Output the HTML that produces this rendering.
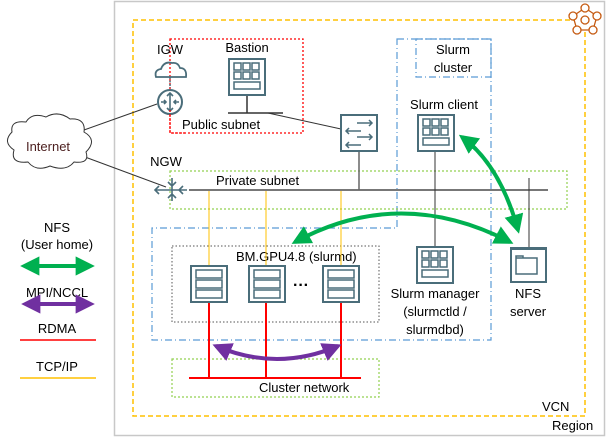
<!DOCTYPE html>
<html><head><meta charset="utf-8"><style>
html,body{margin:0;padding:0;background:#fff;}
svg{display:block;}
text{font-family:"Liberation Sans","Noto Sans CJK JP",sans-serif;font-size:13px;fill:#000;}
</style></head><body>
<svg width="608" height="441" viewBox="0 0 608 441" xmlns="http://www.w3.org/2000/svg">
<defs>
<marker id="g" viewBox="0 0 10 10" refX="8" refY="5" markerWidth="4.8" markerHeight="4.8" orient="auto-start-reverse"><path d="M0,0L10,5L0,10z" fill="#00b050"/></marker>
<marker id="p" viewBox="0 0 10 10" refX="8" refY="5" markerWidth="4.8" markerHeight="4.8" orient="auto-start-reverse"><path d="M0,0L10,5L0,10z" fill="#7030a0"/></marker>
<g id="srv"><rect x="0" y="0" width="36" height="36" fill="#fff" stroke="#4a6d7a" stroke-width="2"/><rect x="5" y="4" width="26" height="8" fill="none" stroke="#4a6d7a" stroke-width="1.5"/><rect x="5" y="14" width="26" height="8" fill="none" stroke="#4a6d7a" stroke-width="1.5"/><rect x="5" y="24" width="26" height="8" fill="none" stroke="#4a6d7a" stroke-width="1.5"/></g>
<g id="vm"><rect x="0" y="0" width="36" height="36" fill="#fff" stroke="#4a6d7a" stroke-width="2"/><g fill="none" stroke="#4a6d7a" stroke-width="1.5"><rect x="5" y="4" width="7" height="7"/><rect x="14" y="4" width="7" height="7"/><rect x="23" y="4" width="7" height="7"/><rect x="5" y="13" width="7" height="7"/><rect x="14" y="13" width="7" height="7"/><rect x="23" y="13" width="7" height="7"/><rect x="5" y="23" width="26" height="7"/></g></g>
</defs>
<rect x="114.5" y="1.5" width="490" height="434" fill="none" stroke="#c8c8c8" stroke-width="1.5"/>
<text x="552" y="430">Region</text>
<rect x="133" y="20" width="452" height="396" fill="none" stroke="#ffc000" stroke-width="1.5" stroke-dasharray="5,3"/>
<text x="542" y="411">VCN</text>
<g fill="#fff" stroke="#c55a11" stroke-width="1.3">
<polygon points="585,8 597,16 593,30 577,30 573,16"/>
<circle cx="585" cy="8" r="4"/><circle cx="597" cy="16" r="4"/><circle cx="593" cy="30" r="4"/><circle cx="577" cy="30" r="4"/><circle cx="573" cy="16" r="4"/><circle cx="585" cy="20" r="4"/>
</g>
<rect x="170" y="39" width="133" height="94" fill="none" stroke="#ff0000" stroke-width="1.3" stroke-dasharray="2,2"/>
<text x="182" y="129">Public subnet</text>
<path d="M397,39H491V340H152V228H397Z" fill="none" stroke="#5b9bd5" stroke-width="1.2" stroke-dasharray="7,3,1,3"/>
<rect x="416" y="39" width="75" height="38" fill="none" stroke="#5b9bd5" stroke-width="1.2" stroke-dasharray="7,3,1,3"/>
<text x="453" y="54" text-anchor="middle">Slurm</text>
<text x="453" y="72" text-anchor="middle">cluster</text>
<rect x="170" y="171" width="397" height="38" fill="none" stroke="#92d050" stroke-width="1.2" stroke-dasharray="2,2"/>
<text x="216" y="185">Private subnet</text>
<rect x="172" y="246" width="207" height="76" fill="none" stroke="#555" stroke-width="1" stroke-dasharray="1.5,2"/>
<text x="236" y="261">BM.GPU4.8 (slurmd)</text>
<rect x="172" y="359" width="207" height="38" fill="none" stroke="#92d050" stroke-width="1.2" stroke-dasharray="2,2"/>
<text x="259" y="392">Cluster network</text>
<g stroke="#ffc000" stroke-width="1"><line x1="209" y1="190" x2="209" y2="266"/><line x1="266" y1="190" x2="266" y2="266"/><line x1="341" y1="190" x2="341" y2="266"/></g>
<line x1="189" y1="190" x2="548" y2="190" stroke="#777" stroke-width="2"/>
<g stroke="#ff0000" stroke-width="2"><line x1="189" y1="378" x2="361" y2="378"/><line x1="209" y1="302" x2="209" y2="378"/><line x1="266" y1="302" x2="266" y2="378"/><line x1="341" y1="302" x2="341" y2="378"/></g>
<g stroke="#333" stroke-width="1"><line x1="435" y1="151" x2="435" y2="247"/><line x1="529" y1="178" x2="529" y2="247"/><line x1="359" y1="151" x2="359" y2="190" stroke="#666" stroke-width="1.5"/>
<line x1="247" y1="95" x2="247" y2="113" stroke="#666" stroke-width="2"/><line x1="228" y1="113" x2="283" y2="113" stroke-width="1.5"/>
<line x1="268" y1="113" x2="341" y2="129"/><line x1="84" y1="130" x2="157" y2="104"/><line x1="85" y1="157" x2="166" y2="187"/></g>
<use href="#vm" x="229" y="59"/>
<use href="#vm" x="418" y="115"/>
<use href="#vm" x="417" y="247"/>
<use href="#srv" x="191" y="266"/><use href="#srv" x="249" y="266"/><use href="#srv" x="323" y="266"/>
<text x="293" y="290" style="font-size:16px;font-weight:bold">···</text>
<rect x="341" y="115" width="36" height="36" fill="#fff" stroke="#4a6d7a" stroke-width="2"/>
<g stroke="#4a6d7a" stroke-width="1.5" fill="none"><path d="M357,123H372M369,120L372,123L369,126"/><path d="M361,131H346M349,128L346,131L349,134"/><path d="M357,137H372M369,134L372,137L369,140"/><path d="M361,145H346M349,142L346,145L349,148"/></g>
<rect x="511" y="248" width="35" height="34" fill="#fff" stroke="#4a6d7a" stroke-width="2"/>
<rect x="511" y="247" width="35" height="3" fill="#4a6d7a"/>
<path d="M516,258H537V274H516ZM516,258V256H523V258" fill="none" stroke="#4a6d7a" stroke-width="1.5"/>
<text x="528" y="298" text-anchor="middle">NFS</text>
<text x="528" y="316" text-anchor="middle">server</text>
<text x="170" y="54" text-anchor="middle">IGW</text>
<path d="M156,77 Q154,70 161,69 Q164,61 172,63 Q178,62 180,68 Q187,68 186,77Z" fill="none" stroke="#4a6d7a" stroke-width="1.8"/>
<line x1="170" y1="77" x2="170" y2="88" stroke="#4a6d7a" stroke-width="1.5" stroke-dasharray="2,1.5"/>
<circle cx="170" cy="102" r="12" fill="#fff" stroke="#4a6d7a" stroke-width="2"/>
<g stroke="#4a6d7a" stroke-width="1.6" fill="none"><path d="M170,93V111M167,96L170,93L173,96M167,108L170,111L173,108M161,102H166M164,100L166,102L164,104M179,102H174M176,100L174,102L176,104"/></g>
<path d="M170,110V133H185" fill="none" stroke="#ff0000" stroke-width="1.3" stroke-dasharray="2,2"/>
<text x="166" y="166" text-anchor="middle">NGW</text>
<g stroke="#4a6d7a" stroke-width="1.6" fill="none"><path d="M155,190H187M172,178V201M168,182L172,186L176,182M168,198L172,194L176,198M159,186L155,190L159,194M183,186L179,190L183,194"/></g>
<text x="247" y="52" text-anchor="middle">Bastion</text>
<text x="444" y="109" text-anchor="middle">Slurm client</text>
<text x="435" y="298" text-anchor="middle">Slurm manager</text>
<text x="435" y="316" text-anchor="middle">(slurmctld /</text>
<text x="435" y="334" text-anchor="middle">slurmdbd)</text>
<path d="M14,150 Q2,142 12,132 Q10,120 26,122 Q32,112 46,117 Q58,110 70,119 Q86,118 84,132 Q98,140 86,152 Q90,164 74,162 Q66,172 50,166 Q36,172 28,162 Q10,164 14,150Z" fill="#fff" stroke="#333" stroke-width="1"/>
<text x="48" y="151" text-anchor="middle" style="fill:#4b1e1e">Internet</text>
<path d="M295,242 Q400,185 510,242" fill="none" stroke="#00b050" stroke-width="4" marker-start="url(#g)" marker-end="url(#g)"/>
<path d="M462,137 Q500,165 518,230" fill="none" stroke="#00b050" stroke-width="4" marker-start="url(#g)" marker-end="url(#g)"/>
<path d="M216,346 Q277,372 338,346" fill="none" stroke="#7030a0" stroke-width="4" marker-start="url(#p)" marker-end="url(#p)"/>
<text x="57" y="232" text-anchor="middle">NFS</text>
<text x="57" y="249" text-anchor="middle">(User home)</text>
<line x1="24" y1="266" x2="91" y2="266" stroke="#00b050" stroke-width="4" marker-start="url(#g)" marker-end="url(#g)"/>
<text x="57" y="297" text-anchor="middle">MPI/NCCL</text>
<line x1="25" y1="304" x2="91" y2="304" stroke="#7030a0" stroke-width="4" marker-start="url(#p)" marker-end="url(#p)"/>
<text x="57" y="333" text-anchor="middle">RDMA</text>
<line x1="20" y1="340" x2="96" y2="340" stroke="#ff0000" stroke-width="1.5"/>
<text x="57" y="371" text-anchor="middle">TCP/IP</text>
<line x1="20" y1="378" x2="96" y2="378" stroke="#ffc000" stroke-width="1.5"/>
</svg>
</body></html>
